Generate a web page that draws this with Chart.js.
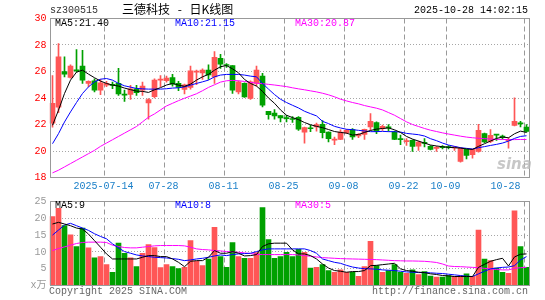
<!DOCTYPE html>
<html lang="zh-CN">
<head>
<meta charset="utf-8">
<title>三德科技 - 日K线图</title>
<script src="https://cdn.jsdelivr.net/npm/chart.js@4.4.1/dist/chart.umd.min.js"></script>
<style>
  html, body { margin: 0; padding: 0; background: #fff; }
  #box { position: relative; width: 545px; height: 300px; overflow: hidden; }
  #box canvas { position: absolute; left: 0; }
  #c-kline { top: 0; }
  #c-vol { top: 190px; }
  .t { position: absolute; white-space: pre; font: 10px/12px 'Liberation Mono', 'DejaVu Sans Mono', monospace; }
  .cn { font: 12px/12px 'Noto Sans CJK SC', sans-serif; word-spacing: 5px; color: #000; }
  .ma5 { color: #000; }
  .ma10 { color: #00f; }
  .ma30 { color: #f0f; }
  .foot { color: #666; }
  #sina { position: absolute; left: 497px; top: 157px; font: italic bold 15px/15px 'DejaVu Sans', sans-serif; color: rgba(185,185,185,.8); }
</style>
</head>
<body>
<div id="box">
  <canvas id="c-kline" width="545" height="190"></canvas>
  <canvas id="c-vol" width="545" height="110"></canvas>

  <div class="t" style="left:50px;top:5px;color:#333">sz300515</div>
  <div class="t cn" style="left:122px;top:3px">三德科技 - 日K线图</div>
  <div class="t" style="right:17px;top:5px;color:#000">2025-10-28 14:02:15</div>

  <div id="lbl-ma5"  class="t ma5"  style="left:55px;top:18px"></div>
  <div id="lbl-ma10" class="t ma10" style="left:175px;top:18px"></div>
  <div id="lbl-ma30" class="t ma30" style="left:295px;top:18px"></div>

  <div id="lbl-vma5"  class="t ma5"  style="left:55px;top:200px"></div>
  <div id="lbl-vma10" class="t ma10" style="left:175px;top:200px"></div>
  <div id="lbl-vma30" class="t ma30" style="left:295px;top:200px"></div>

  <div id="sina">sina</div>

  <div class="t foot" style="left:49px;top:286px">Copyright 2025 SINA.COM</div>
  <div class="t foot" style="right:17px;top:286px">http://finance.sina.com.cn</div>
</div>

<script>
'use strict';

/* ---------- data ---------- */
const dates = [
  '07-01','07-02','07-03','07-04','07-07','07-08','07-09','07-10','07-11','07-14',
  '07-15','07-16','07-17','07-18','07-21','07-22','07-23','07-24','07-25','07-28',
  '07-29','07-30','07-31','08-01','08-04','08-05','08-06','08-07','08-08','08-11',
  '08-12','08-13','08-14','08-15','08-18','08-19','08-20','08-21','08-22','08-25',
  '08-26','08-27','08-28','08-29','09-01','09-02','09-03','09-04','09-05','09-08',
  '09-09','09-10','09-11','09-12','09-15','09-16','09-17','09-18','09-19','09-22',
  '09-23','09-24','09-25','09-26','09-29','09-30','10-09','10-10','10-13','10-14',
  '10-15','10-16','10-17','10-20','10-21','10-22','10-23','10-24','10-27','10-28',
];

const xTickLabels = ['2025-07-14', '07-28', '08-11', '08-25', '09-08', '09-22', '10-09', '10-28'];

const opens = [
  22.1, 23.3, 26.0, 25.55, 26.1, 26.4, 25.1, 25.3, 24.6, 24.97,
  25.0, 25.1, 24.25, 24.27, 24.7, 24.6, 23.63, 24.1, 25.35, 25.3,
  25.55, 25.1, 24.65, 24.79, 25.95, 25.9, 26.1, 25.6, 27.0, 26.5,
  26.45, 24.46, 25.1, 23.96, 25.1, 25.65, 23.0, 22.87, 22.67, 22.47,
  22.41, 22.55, 21.43, 21.72, 21.81, 22.01, 21.43, 20.82, 20.88, 21.38,
  21.61, 21.13, 21.26, 21.81, 22.14, 21.69, 21.8, 21.43, 20.9, 20.7,
  20.8, 20.37, 20.62, 20.35, 20.2, 20.28, 20.28, 20.23, 19.21, 20.12,
  19.72, 19.97, 21.31, 20.73, 21.25, 21.08, 20.78, 21.94, 22.1, 21.81,
];
const closes = [
  23.6, 27.1, 25.8, 26.4, 26.05, 25.35, 25.25, 24.6, 25.15, 25.1,
  24.95, 24.31, 24.22, 24.7, 24.4, 24.9, 23.88, 25.35, 25.4, 25.5,
  25.05, 24.8, 25.0, 26.06, 26.0, 26.1, 25.75, 27.07, 26.56, 26.45,
  24.6, 25.22, 24.08, 25.22, 26.1, 23.45, 22.75, 22.64, 22.49, 22.44,
  22.38, 21.65, 21.76, 21.68, 21.99, 21.38, 20.93, 20.87, 21.43, 21.56,
  21.06, 21.26, 21.64, 22.24, 21.48, 21.86, 21.75, 20.88, 20.86, 20.78,
  20.35, 20.68, 20.58, 20.12, 20.24, 20.26, 20.26, 20.27, 20.22, 19.67,
  20.12, 21.56, 20.68, 21.18, 21.2, 21.05, 20.82, 22.24, 22.05, 21.48,
];
const highs = [
  25.7, 28.1, 27.1, 26.5, 27.65, 27.6, 25.3, 25.45, 25.4, 25.25,
  25.2, 26.23, 24.6, 24.95, 24.95, 25.2, 23.95, 25.45, 25.7, 25.65,
  25.78, 25.25, 25.05, 26.41, 26.1, 26.2, 26.5, 27.5, 27.3, 26.6,
  26.45, 25.3, 25.15, 25.3, 26.4, 25.86, 23.0, 23.13, 22.67, 22.7,
  22.6, 22.6, 21.8, 21.95, 22.1, 22.3, 21.45, 21.05, 21.6, 21.64,
  21.69, 21.31, 21.66, 22.82, 22.2, 21.95, 22.0, 21.5, 21.2, 20.93,
  20.85, 20.75, 20.93, 20.4, 20.35, 20.4, 20.4, 20.35, 20.25, 20.15,
  20.15, 22.01, 21.36, 21.61, 21.25, 21.2, 21.0, 24.01, 22.24, 21.99,
];
const lows = [
  21.8, 22.9, 25.6, 25.5, 25.95, 25.1, 24.85, 24.45, 24.25, 24.85,
  24.7, 24.2, 23.75, 23.9, 24.2, 24.2, 22.4, 24.0, 24.85, 25.2,
  24.89, 24.55, 24.3, 24.67, 25.0, 25.4, 25.4, 25.1, 26.23, 26.3,
  24.35, 24.3, 24.05, 23.9, 24.9, 23.33, 22.4, 22.4, 22.19, 22.2,
  22.15, 21.55, 20.6, 21.45, 21.5, 20.98, 20.68, 20.47, 20.85, 21.3,
  20.88, 21.0, 20.88, 21.56, 21.3, 21.56, 21.5, 20.85, 20.47, 20.42,
  19.97, 20.05, 20.3, 20.08, 19.97, 20.15, 20.15, 20.05, 19.15, 19.41,
  19.46, 19.92, 20.63, 20.63, 20.8, 20.9, 20.22, 21.89, 21.81, 21.43,
];

const ma5 = [
  21.94, 23.08, 24.34, 25.35, 25.95, 26.1, 25.8, 25.53, 25.28, 25.1,
  24.97, 24.9, 24.75, 24.63, 24.52, 24.5, 24.42, 24.62, 24.78, 24.98,
  25.1, 24.97, 24.88, 25.05, 25.35, 25.6, 25.78, 26.1, 26.36, 26.45,
  26.2, 25.9, 25.4, 25.1, 24.9, 24.5, 24.0, 23.6, 23.1, 22.7,
  22.52, 22.37, 22.15, 21.98, 21.86, 21.76, 21.62, 21.47, 21.4, 21.35,
  21.2, 21.25, 21.4, 21.55, 21.65, 21.7, 21.74, 21.6, 21.4, 21.1,
  20.9, 20.75, 20.6, 20.45, 20.38, 20.32, 20.28, 20.25, 20.22, 20.16,
  20.12, 20.35, 20.55, 20.75, 20.95, 21.05, 21.0, 21.3, 21.5, 21.4,
];
const ma10 = [
  20.55, 21.31, 22.19, 22.95, 23.66, 24.34, 24.84, 25.22, 25.42, 25.47,
  25.35, 25.1, 24.92, 24.82, 24.72, 24.69, 24.67, 24.67, 24.67, 24.7,
  24.75, 24.77, 24.84, 24.97, 25.1, 25.22, 25.35, 25.6, 25.73, 25.78,
  25.78, 25.78, 25.73, 25.65, 25.6, 25.1, 24.67, 24.26, 23.91, 23.66,
  23.45, 23.25, 23.0, 22.82, 22.65, 22.24, 22.07, 21.86, 21.74, 21.64,
  21.61, 21.56, 21.51, 21.46, 21.46, 21.48, 21.46, 21.46, 21.43, 21.33,
  21.28, 21.23, 21.13, 20.93, 20.78, 20.6, 20.45, 20.35, 20.25, 20.2,
  20.15, 20.25, 20.33, 20.42, 20.5, 20.6, 20.75, 20.95, 21.1, 21.15,
];
const ma30 = [
  18.35, 18.55, 18.8, 19.05, 19.3, 19.55, 19.8, 20.05, 20.35, 20.6,
  20.85, 21.1, 21.35, 21.6, 21.85, 22.2, 22.55, 22.8, 23.1, 23.4,
  23.6, 23.8, 23.98, 24.15, 24.32, 24.55, 24.8, 25.0, 25.2, 25.3,
  25.33, 25.3, 25.25, 25.18, 25.12, 25.08, 25.03, 24.98, 24.92, 24.86,
  24.77, 24.69, 24.62, 24.54, 24.46, 24.36, 24.24, 24.09, 23.91, 23.78,
  23.66, 23.56, 23.43, 23.33, 23.23, 23.1, 22.9, 22.7, 22.45, 22.2,
  22.0, 21.85, 21.7, 21.57, 21.47, 21.37, 21.28, 21.2, 21.12, 21.05,
  21.0, 20.96, 20.93, 20.9, 20.88, 20.87, 20.86, 20.86, 20.87, 20.87,
];

/* volume, 万手 */
const volumes = [
  20.5, 23.0, 17.8, 15.1, 11.6, 17.1, 11.2, 8.2, 8.6, 6.2,
  3.95, 12.6, 9.6, 8.2, 5.6, 9.6, 12.2, 11.3, 5.3, 6.2,
  5.6, 5.0, 5.4, 13.35, 7.2, 5.9, 7.9, 17.3, 8.6, 5.4,
  12.8, 8.6, 8.1, 8.1, 9.8, 23.2, 13.65, 8.1, 8.6, 9.9,
  8.6, 10.8, 9.9, 5.2, 5.4, 6.2, 4.45, 3.95, 4.65, 3.95,
  3.95, 2.7, 5.6, 13.15, 5.9, 3.95, 4.45, 6.2, 3.95, 3.65,
  4.65, 3.25, 4.15, 2.77, 2.47, 2.47, 2.97, 2.7, 2.87, 3.47,
  2.7, 16.5, 7.9, 7.4, 5.2, 3.95, 3.65, 22.25, 11.6, 5.4,
];
const volMa5 = [
  18.3, 18.8, 18.3, 17.8, 17.1, 16.8, 15.3, 13.35, 11.4, 9.4,
  7.9, 7.9, 7.9, 7.9, 7.9, 8.4, 8.9, 8.9, 8.6, 8.6,
  7.9, 6.9, 5.6, 7.2, 7.4, 7.4, 8.4, 10.4, 9.6, 9.6,
  10.1, 9.6, 8.8, 8.9, 9.2, 11.6, 12.4, 12.6, 12.6, 12.6,
  10.6, 9.4, 9.4, 8.9, 7.9, 6.4, 5.2, 4.45, 4.25, 3.95,
  4.15, 4.15, 4.45, 5.9, 6.0, 6.2, 6.4, 6.6, 4.95, 4.45,
  4.25, 3.95, 3.85, 3.47, 3.27, 2.97, 2.87, 2.67, 2.67, 2.67,
  2.67, 5.4, 6.3, 7.2, 7.7, 8.1, 5.8, 8.5, 9.3, 9.4,
];
const volMa10 = [
  15.0, 16.5, 18.0, 18.5, 17.8, 17.1, 16.4, 15.4, 14.6, 13.9,
  12.4, 11.2, 10.1, 9.6, 9.1, 8.8, 8.6, 8.4, 8.3, 8.2,
  8.0, 7.8, 7.4, 7.6, 7.9, 8.1, 8.4, 8.8, 9.1, 8.9,
  9.2, 9.4, 9.5, 9.6, 10.1, 10.6, 10.9, 10.9, 10.9, 10.9,
  10.9, 10.9, 10.9, 10.4, 9.6, 7.9, 7.4, 6.9, 6.6, 6.0,
  5.5, 5.2, 5.0, 4.95, 4.85, 4.65, 4.55, 4.45, 4.25, 4.05,
  3.95, 3.85, 3.85, 3.76, 3.65, 3.56, 3.36, 3.17, 2.97, 2.77,
  2.67, 3.47, 4.25, 4.95, 5.2, 5.4, 5.5, 5.9, 7.6, 8.6,
];
const volMa30 = [
  10.4, 11.0, 11.5, 12.0, 12.5, 12.8, 12.9, 12.9, 12.9, 12.8,
  12.0, 11.6, 11.3, 11.2, 11.2, 11.4, 11.6, 11.8, 11.9, 11.9,
  11.9, 11.9, 11.8, 11.4, 10.9, 10.7, 10.6, 10.4, 10.3, 10.1,
  10.0, 9.9, 9.7, 9.5, 9.3, 9.2, 9.2, 9.2, 9.2, 9.2,
  9.2, 9.1, 8.9, 8.7, 8.5, 8.3, 8.2, 8.1, 8.0, 7.95,
  7.9, 7.85, 7.8, 7.75, 7.7, 7.6, 7.5, 7.4, 7.35, 7.3,
  7.3, 7.25, 7.2, 7.05, 6.85, 6.4, 5.8, 5.65, 5.6, 5.5,
  5.4, 5.3, 5.1, 4.95, 4.75, 4.65, 4.65, 5.1, 5.3, 5.4,
];

/* axis ranges */
const priceMin = 18, priceMax = 30, priceStep = 2;
const volMin = 0, volMax = 25, volStep = 5;
const volUnit = 'x万';

/* ---------- styling ---------- */
const RED    = '#ff5656';
const GREEN  = '#00a000';
const GRID_H = '#a6a6a6';
const GRID_V = '#999999';
const NONE   = 'rgba(0,0,0,0)';
const FONT   = "'Liberation Mono', 'DejaVu Sans Mono', 'Noto Sans CJK SC', monospace";

const candleColors = closes.map((c, i) => (c >= opens[i] ? RED : GREEN));
const tickIndex = xTickLabels.map(t => dates.indexOf(t.slice(-5)));
const lastIndex = dates.length - 1;

/* grey frame round the plot area */
const framePlugin = {
  id: 'frame',
  afterDraw(chart) {
    const { ctx, chartArea: a } = chart;
    const l = Math.ceil(a.left) + 0.5;
    const r = Math.floor(a.right) + 0.5;
    const t = Math.floor(a.top) + 0.5;
    const b = Math.floor(a.bottom) + 0.5;
    ctx.save();
    ctx.strokeStyle = '#999';
    ctx.lineWidth = 1;
    ctx.strokeRect(l, t, r - l, b - t);
    ctx.restore();
  },
};

/* dashed vertical lines at the labelled dates, placed with the x scale */
const dateLinePlugin = {
  id: 'dateLines',
  beforeDatasetsDraw(chart) {
    const { ctx, chartArea: a, scales: { x } } = chart;
    const half = (x.getPixelForValue(1) - x.getPixelForValue(0)) / 2;
    ctx.save();
    ctx.strokeStyle = GRID_V;
    ctx.lineWidth = 1;
    ctx.setLineDash([5, 3]);
    tickIndex.forEach(i => {
      const px = Math.round(x.getPixelForValue(i) - half) + 0.5;
      ctx.beginPath();
      ctx.moveTo(px, a.top);
      ctx.lineTo(px, a.bottom);
      ctx.stroke();
    });
    ctx.restore();
  },
};

function xScale(showLabels) {
  return {
    type: 'category',
    offset: true,
    grid: { display: false, drawTicks: false },
    border: { display: false },
    ticks: {
      display: showLabels,
      autoSkip: false,
      maxRotation: 0,
      minRotation: 0,
      padding: 3,
      labelOffset: -3,
      color: '#1a7fc8',
      font: { family: FONT, size: 10 },
      callback: (v, i) => {
        const n = tickIndex.indexOf(i);
        if (n < 0) return '';
        /* last label is pushed left so it stays inside the frame */
        return i === lastIndex ? xTickLabels[n] + '      ' : xTickLabels[n];
      },
    },
    afterFit: s => {
      s.height = showLabels ? 12.5 : 0;
      s.paddingLeft = 0;
      s.paddingRight = 0;
    },
  };
}

function yScale(min, max, step, color, label) {
  return {
    type: 'linear',
    min,
    max,
    grid: {
      drawTicks: false,
      color: ctx => (ctx.tick && (ctx.tick.value === min || ctx.tick.value === max) ? NONE : GRID_H),
    },
    border: { display: false, dash: [1, 2] },
    ticks: {
      stepSize: step,
      padding: 3,
      color,
      font: { family: FONT, size: 10 },
      callback: label,
    },
    afterFit: s => { s.width = 49.5; },
  };
}

const lineDs = (data, color) => ({
  type: 'line',
  data,
  borderColor: color,
  borderWidth: 1,
  pointRadius: 0,
  tension: 0,
  fill: false,
  order: 0,
});

const baseOpts = {
  responsive: false,
  animation: false,
  devicePixelRatio: 1,
  events: [],
  plugins: { legend: { display: false }, tooltip: { enabled: false } },
};

/* ---------- 1. K-line ---------- */
new Chart(document.getElementById('c-kline'), {
  type: 'bar',
  data: {
    labels: dates,
    datasets: [
      lineDs(ma5, '#000'),
      lineDs(ma10, '#00f'),
      lineDs(ma30, '#f0f'),
      {
        data: opens.map((o, i) => [o, closes[i]]),
        backgroundColor: candleColors,
        barThickness: 5,
        minBarLength: 1,
        grouped: false,
        order: 1,
      },
      {
        data: lows.map((l, i) => [l, highs[i]]),
        backgroundColor: candleColors,
        barThickness: 1,
        grouped: false,
        order: 2,
      },
    ],
  },
  options: {
    ...baseOpts,
    layout: { padding: { top: 18.5, right: 15.5, bottom: 0, left: 0 } },
    scales: {
      x: xScale(true),
      y: yScale(priceMin, priceMax, priceStep, '#f00', v => v),
    },
  },
  plugins: [dateLinePlugin, framePlugin],
});

/* ---------- 2. Volume ---------- */
new Chart(document.getElementById('c-vol'), {
  type: 'bar',
  data: {
    labels: dates,
    datasets: [
      lineDs(volMa5, '#000'),
      lineDs(volMa10, '#00f'),
      lineDs(volMa30, '#f0f'),
      {
        data: volumes,
        backgroundColor: candleColors,
        barThickness: 5,
        grouped: false,
        order: 1,
      },
    ],
  },
  options: {
    ...baseOpts,
    layout: { padding: { top: 11.5, right: 15.5, bottom: 14.5, left: 0 } },
    scales: {
      x: xScale(false),
      y: yScale(volMin, volMax, volStep, '#999', v => (v === 0 ? volUnit : v)),
    },
  },
  plugins: [dateLinePlugin, framePlugin],
});

/* ---------- MA captions ---------- */
const last = a => a[a.length - 1];
document.getElementById('lbl-ma5').textContent  = 'MA5:'  + last(ma5).toFixed(2);
document.getElementById('lbl-ma10').textContent = 'MA10:' + last(ma10).toFixed(2);
document.getElementById('lbl-ma30').textContent = 'MA30:' + last(ma30).toFixed(2);
document.getElementById('lbl-vma5').textContent  = 'MA5:'  + Math.floor(last(volMa5));
document.getElementById('lbl-vma10').textContent = 'MA10:' + Math.floor(last(volMa10));
document.getElementById('lbl-vma30').textContent = 'MA30:' + Math.floor(last(volMa30));
</script>
</body>
</html>
